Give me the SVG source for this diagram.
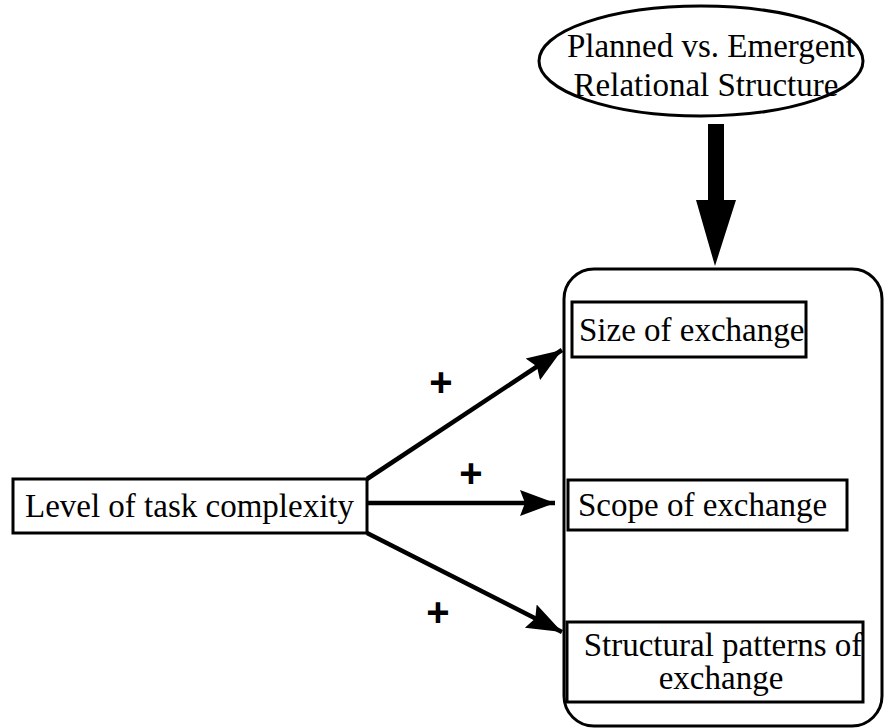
<svg xmlns="http://www.w3.org/2000/svg" width="884" height="728" viewBox="0 0 884 728">
  <style>
    .lbl { font-family: "Liberation Serif", "Times New Roman", serif; font-size: 33px; fill: #000; }
    .box { fill: #fff; stroke: #000; stroke-width: 3; }
    .sign { font-family: "Liberation Sans", Arial, sans-serif; font-size: 40px; font-weight: bold; fill: #000; text-anchor: middle; }
    .conn { fill: none; stroke: #000; stroke-width: 4.5; }
  </style>
  <defs>
    <marker id="head" markerUnits="userSpaceOnUse" markerWidth="38" markerHeight="30" refX="35" refY="14" orient="auto">
      <path d="M0,1 L35,14 L0,27 L5,14 Z" fill="#000"/>
    </marker>
  </defs>

  <rect width="884" height="728" fill="#fff"/>

  <!-- Container for the exchange outcomes -->
  <g id="outcomes-frame">
    <rect x="564" y="269" width="318" height="457" rx="30" ry="30" fill="none" stroke="#000" stroke-width="3"/>
  </g>

  <!-- Moderator: relational structure -->
  <g id="relational-structure">
    <ellipse cx="701" cy="61" rx="162" ry="55" fill="#fff" stroke="#000" stroke-width="3"/>
    <text class="lbl" x="711" y="57" text-anchor="middle">Planned vs. Emergent</text>
    <text class="lbl" x="706" y="96" text-anchor="middle">Relational Structure</text>
  </g>

  <g id="task-complexity">
    <rect class="box" x="13" y="479" width="354" height="54"/>
    <text class="lbl" x="25" y="517">Level of task complexity</text>
  </g>

  <g id="size-of-exchange">
    <rect class="box" x="572" y="302" width="234" height="55"/>
    <text class="lbl" x="579" y="341">Size of exchange</text>
  </g>

  <g id="scope-of-exchange">
    <rect class="box" x="568" y="480" width="279" height="50"/>
    <text class="lbl" x="578" y="516">Scope of exchange</text>
  </g>

  <g id="structural-patterns">
    <rect class="box" x="567" y="622" width="296" height="80"/>
    <text class="lbl" x="723" y="656" text-anchor="middle">Structural patterns of</text>
    <text class="lbl" x="721" y="689" text-anchor="middle">exchange</text>
  </g>

  <g id="connectors">
    <line class="conn" x1="367" y1="479" x2="562" y2="350" marker-end="url(#head)"/>
    <line class="conn" x1="367" y1="503" x2="555" y2="503" marker-end="url(#head)"/>
    <line class="conn" x1="367" y1="533" x2="562" y2="632" marker-end="url(#head)"/>
    <!-- heavy arrow from the moderator down onto the frame -->
    <path d="M708,124 L724,124 L724,200 L736,200 L715,266 L696,200 L708,200 Z" fill="#000"/>
    <text class="sign" x="441" y="396">+</text>
    <text class="sign" x="471" y="487">+</text>
    <text class="sign" x="438" y="626">+</text>
  </g>
</svg>
